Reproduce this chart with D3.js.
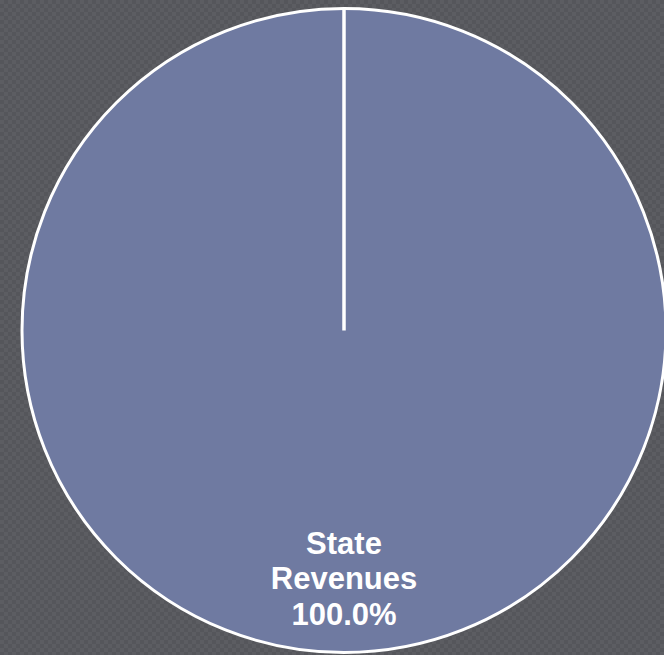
<!DOCTYPE html>
<html>
<head>
<meta charset="utf-8">
<script src="https://cdn.jsdelivr.net/npm/d3@7"></script>
<style>
  body { margin: 0; background: #58595e; }
  svg { display: block; }
</style>
</head>
<body>
<div id="chart"></div>
<script>
// data
var categories = ["State Revenues"];
var values = [100];
var colors = ["#6f7aa1"];

var width = 664, height = 655;
var cx = 344, cy = 330.5, radius = 322;

var svg = d3.select("#chart")
    .append("svg")
      .attr("width", width)
      .attr("height", height);

// checkered background
var defs = svg.append("defs");
var pat = defs.append("pattern")
    .attr("id", "checker")
    .attr("width", 8)
    .attr("height", 8)
    .attr("patternUnits", "userSpaceOnUse");
pat.append("rect").attr("width", 8).attr("height", 8).attr("fill", "#55565b");
pat.append("rect").attr("width", 4).attr("height", 4).attr("fill", "#5c5d62");
pat.append("rect").attr("x", 4).attr("y", 4).attr("width", 4).attr("height", 4).attr("fill", "#5c5d62");

svg.append("rect")
    .attr("width", width)
    .attr("height", height)
    .attr("fill", "url(#checker)");

var data = categories.map(function(c, i) { return {name: c, value: values[i]}; });

var pie = d3.pie()
    .sort(null)
    .value(function(d) { return d.value; });

var arc = d3.arc()
    .innerRadius(0)
    .outerRadius(radius);

var labelArc = d3.arc()
    .innerRadius(radius * 0.77)
    .outerRadius(radius * 0.77);

var g = svg.append("g")
    .attr("transform", "translate(" + cx + "," + cy + ")");

var arcs = pie(data);

g.selectAll("path.slice")
    .data(arcs)
  .enter().append("path")
    .attr("class", "slice")
    .attr("d", arc)
    .attr("fill", function(d, i) { return colors[i]; })
    .attr("stroke", "#ffffff")
    .attr("stroke-width", 3);

// slice border from the centre (excel draws it even for a single slice)
g.selectAll("line.edge")
    .data(arcs)
  .enter().append("line")
    .attr("class", "edge")
    .attr("x1", 0)
    .attr("y1", 0)
    .attr("x2", function(d) { return radius * Math.sin(d.startAngle); })
    .attr("y2", function(d) { return -radius * Math.cos(d.startAngle); })
    .attr("stroke", "#ffffff")
    .attr("stroke-width", 3.5);

// labels
var labels = g.selectAll("text.label")
    .data(arcs)
  .enter().append("text")
    .attr("class", "label")
    .attr("transform", function(d) { return "translate(" + labelArc.centroid(d) + ")"; })
    .attr("text-anchor", "middle")
    .style("font-family", "'Liberation Sans', Arial, sans-serif")
    .style("font-weight", "bold")
    .style("font-size", "31px")
    .attr("fill", "#ffffff");

labels.each(function(d) {
  var t = d3.select(this);
  var words = d.data.name.split(" ");
  var pct = (d.data.value / d3.sum(values) * 100).toFixed(1) + "%";
  var lines = words.concat([pct]);
  lines.forEach(function(l, i) {
    t.append("tspan")
      .attr("x", 0)
      .attr("y", (i - (lines.length - 1) / 2) * 35.5)
      .attr("dy", "0.35em")
      .text(l);
  });
});
</script>
</body>
</html>
